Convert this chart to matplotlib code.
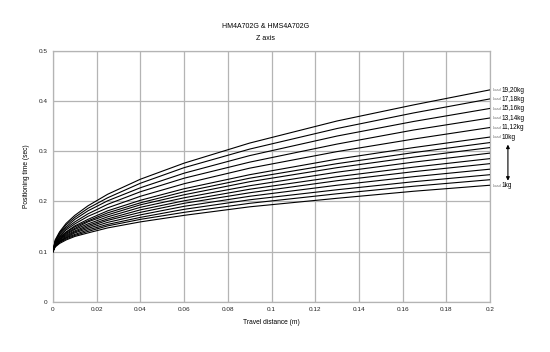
import matplotlib
matplotlib.use("Agg")
import matplotlib.pyplot as plt

plt.rcParams['font.family'] = ['Liberation Sans', 'DejaVu Sans']

# travel distance sample positions (m)
x_pos = [0, 0.001, 0.003, 0.006, 0.01, 0.016, 0.025, 0.04, 0.06, 0.09, 0.13, 0.165, 0.2]

# positioning time (sec) for each load curve
load_1 = [0.100, 0.109, 0.116, 0.123, 0.130, 0.137, 0.147, 0.159, 0.172, 0.189, 0.206, 0.220, 0.232]
load_2 = [0.100, 0.110, 0.118, 0.125, 0.132, 0.140, 0.151, 0.164, 0.178, 0.196, 0.215, 0.230, 0.243]
load_3 = [0.100, 0.111, 0.119, 0.127, 0.134, 0.143, 0.154, 0.168, 0.184, 0.203, 0.223, 0.239, 0.253]
load_4 = [0.100, 0.112, 0.120, 0.128, 0.137, 0.146, 0.158, 0.173, 0.190, 0.210, 0.232, 0.249, 0.264]
load_5 = [0.100, 0.112, 0.121, 0.130, 0.139, 0.149, 0.162, 0.178, 0.196, 0.217, 0.241, 0.259, 0.275]
load_6 = [0.100, 0.113, 0.123, 0.132, 0.141, 0.152, 0.165, 0.183, 0.201, 0.224, 0.249, 0.268, 0.285]
load_7 = [0.100, 0.114, 0.124, 0.134, 0.144, 0.155, 0.169, 0.188, 0.207, 0.231, 0.258, 0.278, 0.296]
load_8 = [0.100, 0.115, 0.125, 0.136, 0.146, 0.159, 0.173, 0.193, 0.213, 0.239, 0.267, 0.288, 0.307]
load_9 = [0.100, 0.115, 0.127, 0.138, 0.149, 0.161, 0.177, 0.197, 0.219, 0.246, 0.275, 0.297, 0.317]
load_10 = [0.100, 0.116, 0.128, 0.139, 0.151, 0.164, 0.181, 0.202, 0.225, 0.253, 0.284, 0.307, 0.328]
load_11_12 = [0.100, 0.117, 0.130, 0.143, 0.155, 0.170, 0.187, 0.210, 0.235, 0.266, 0.299, 0.324, 0.347]
load_13_14 = [0.100, 0.119, 0.133, 0.146, 0.159, 0.175, 0.194, 0.219, 0.246, 0.278, 0.314, 0.342, 0.366]
load_15_16 = [0.100, 0.120, 0.135, 0.149, 0.164, 0.181, 0.201, 0.227, 0.256, 0.291, 0.330, 0.359, 0.385]
load_17_18 = [0.100, 0.121, 0.137, 0.153, 0.168, 0.186, 0.207, 0.236, 0.267, 0.304, 0.345, 0.376, 0.404]
load_19_20 = [0.100, 0.123, 0.139, 0.156, 0.172, 0.191, 0.214, 0.244, 0.276, 0.316, 0.360, 0.392, 0.422]

curves = [load_1, load_2, load_3, load_4, load_5, load_6, load_7, load_8, load_9,
          load_10, load_11_12, load_13_14, load_15_16, load_17_18, load_19_20]

# labelled curves (index into curves) and their labels
label_idx = [14, 13, 12, 11, 10, 9, 0]
label_text = ["19,20kg", "17,18kg", "15,16kg", "13,14kg", "11,12kg", "10kg", "1kg"]

x_ticks = [0, 0.02, 0.04, 0.06, 0.08, 0.1, 0.12, 0.14, 0.16, 0.18, 0.2]
x_tick_labels = ["0", "0.02", "0.04", "0.06", "0.08", "0.1", "0.12", "0.14", "0.16", "0.18", "0.2"]
y_ticks = [0, 0.1, 0.2, 0.3, 0.4, 0.5]
y_tick_labels = ["0", "0.1", "0.2", "0.3", "0.4", "0.5"]

fig = plt.figure(figsize=(5.5, 3.52), dpi=100)
ax = fig.add_axes([53 / 550, 1 - 301.7 / 352, (490 - 53) / 550, (301.7 - 50.7) / 352])

grid_c = '#b4b4b4'
for c in curves:
    ax.plot(x_pos, c, color='black', lw=0.8, zorder=3)

ax.set_xlim(0, 0.2)
ax.set_ylim(0, 0.5)
ax.set_xticks(x_ticks)
ax.set_xticklabels(x_tick_labels)
ax.set_yticks(y_ticks)
ax.set_yticklabels(y_tick_labels)
ax.tick_params(length=0, labelsize=4.6, pad=4, colors='#222222')
ax.grid(True, color=grid_c, lw=0.9)
for s in ax.spines.values():
    s.set_color(grid_c)
    s.set_linewidth(0.9)

ax.set_xlabel("Travel distance (m)", fontsize=4.8, labelpad=5)
ax.set_ylabel("Positioning time (sec)", fontsize=4.8, labelpad=6)

fig.text(266 / 550, 1 - 27 / 352, "HM4A702G & HMS4A702G", ha='center', va='center', fontsize=5)
fig.text(266 / 550, 1 - 38.5 / 352, "Z axis", ha='center', va='center', fontsize=5)

for i, t in zip(label_idx, label_text):
    yv = curves[i][-1]
    ax.annotate("Load", xy=(0.2, yv), xytext=(1.8, -0.3), textcoords='offset points',
                fontsize=2.9, color='#707070', va='center', ha='left', annotation_clip=False)
    ax.annotate(t, xy=(0.2, yv), xytext=(8.6, -0.3), textcoords='offset points',
                fontsize=4.7, color='black', va='center', ha='left', annotation_clip=False)

ax.annotate("", xy=(0.2082, 0.241), xytext=(0.2082, 0.313),
            arrowprops=dict(arrowstyle='<|-|>', color='black', lw=0.8,
                            mutation_scale=5, shrinkA=0, shrinkB=0),
            annotation_clip=False)

fig.savefig("out.png", dpi=100)
